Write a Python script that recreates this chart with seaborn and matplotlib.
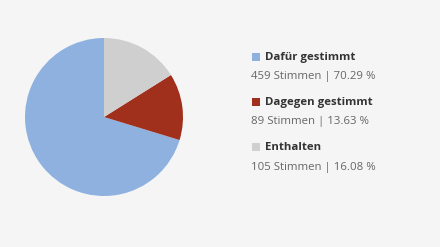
import matplotlib
matplotlib.use("Agg")
import matplotlib.pyplot as plt
import seaborn as sns
from matplotlib.patches import Rectangle

categories = ["Dafür gestimmt", "Dagegen gestimmt", "Enthalten"]
votes = [459, 89, 105]
percents = [70.29, 13.63, 16.08]
colors = ["#8EB1E0", "#A02F1B", "#CFCFCF"]

sns.set_theme(style="white")
plt.rcParams['font.family'] = ['Open Sans', 'DejaVu Sans']

W, H = 440, 247
fig = plt.figure(figsize=(W / 100, H / 100), dpi=100, facecolor="#F5F5F5")

ax = fig.add_axes([25 / W, (H - 196) / H, 158 / W, 158 / H])
ax.set_facecolor("#F5F5F5")
ax.pie(votes, colors=colors, startangle=90, counterclock=True,
       wedgeprops=dict(linewidth=0))
ax.set_xlim(-1, 1)
ax.set_ylim(-1, 1)
ax.set_aspect("equal")
ax.axis("off")

title_y = [57, 102, 147]
sub_y = [76.5, 121.5, 167]
for i, cat in enumerate(categories):
    ty = 1 - title_y[i] / H
    fig.patches.append(Rectangle((252 / W, 1 - (title_y[i] + 4) / H), 8 / W, 8 / H,
                                 transform=fig.transFigure, facecolor=colors[i],
                                 edgecolor="none"))
    fig.text(265 / W, ty, cat, fontsize=8.2, fontweight="bold", color="#333333",
             va="center", ha="left")
    fig.text(251 / W, 1 - sub_y[i] / H,
             f"{votes[i]} Stimmen | {percents[i]:.2f} %",
             fontsize=8.2, color="#666666", va="center", ha="left")

fig.savefig("out.png", dpi=100, facecolor=fig.get_facecolor())
